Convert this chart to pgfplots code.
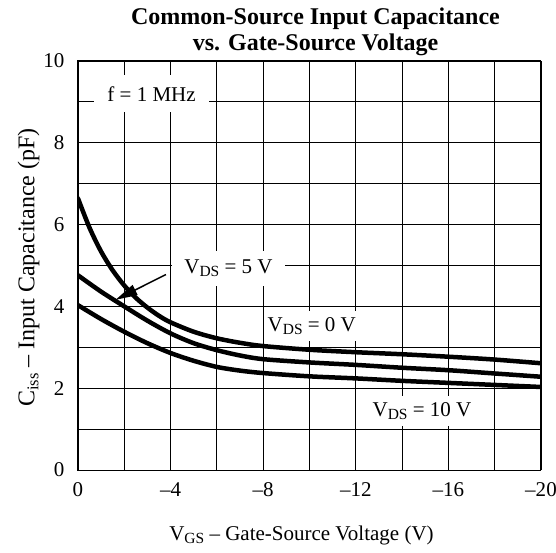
\documentclass[border=0pt]{standalone}
\usepackage{fontspec}
\setmainfont{Liberation Serif}
\usepackage{pgfplots}
\pgfplotsset{compat=1.18}
\usetikzlibrary{arrows.meta}
\newcommand\sub[1]{\raisebox{-0.35ex}{\fontsize{15.5}{15.5}\selectfont #1}}
\newcommand\subs[1]{\raisebox{-0.35ex}{\fontsize{16.5}{16.5}\selectfont #1}}
\begin{document}
\begin{tikzpicture}
\path[use as bounding box] (-78pt,-82pt) rectangle (478pt,470pt);
\begin{axis}[
  at={(0,0)}, anchor=south west,
  scale only axis, width=463pt, height=409pt,
  xmin=-20, xmax=0, x dir=reverse,
  ymin=0, ymax=10,
  xtick={0,-4,-8,-12,-16,-20},
  xticklabels={0,–4,–8,–12,–16,–20},
  ytick={0,2,4,6,8,10},
  yticklabels={0,2,4,6,8,10},
  minor xtick={-2,-6,-10,-14,-18},
  minor ytick={1,3,5,7,9},
  grid=both,
  major grid style={black, line width=0.8pt},
  minor grid style={black, line width=0.8pt},
  major tick length=0pt, minor tick length=0pt,
  axis line style={black, line width=1pt},
  tick label style={font=\fontsize{21}{21}\selectfont},
  yticklabel style={xshift=-10pt},
  xticklabel style={yshift=-9pt},
  title={Common-Source Input Capacitance\\vs. Gate-Source Voltage},
  title style={align=center, font=\bfseries\fontsize{24}{25.5}\selectfont, yshift=-4pt, xshift=6pt},
  xlabel={V\sub{GS} – Gate-Source Voltage (V)},
  ylabel={C\subs{iss} – Input Capacitance (pF)},
  xlabel style={font=\fontsize{21}{21}\selectfont, yshift=-22pt, xshift=-8pt},
  ylabel style={font=\fontsize{24}{24}\selectfont, yshift=-3pt, xshift=-2pt},
]
\addplot[black, line width=4.5pt, smooth, line cap=round] coordinates {
(0,6.64) (-0.5,5.92) (-1,5.34) (-1.5,4.88) (-2,4.51) (-2.5,4.21) (-3,3.97) (-3.5,3.77) (-4,3.61) (-5,3.38) (-6,3.22) (-7,3.11) (-8,3.03) (-10,2.94) (-12,2.88) (-14,2.83) (-16,2.77) (-18,2.70) (-20,2.61)};
\addplot[black, line width=4.5pt, smooth, line cap=round] coordinates {
(0,4.76) (-1,4.36) (-2,4.0) (-3,3.65) (-4,3.34) (-5,3.1) (-6,2.93) (-7,2.8) (-8,2.71) (-10,2.63) (-12,2.57) (-14,2.5) (-16,2.44) (-18,2.36) (-20,2.28)};
\addplot[black, line width=4.5pt, smooth, line cap=round] coordinates {
(0,4.03) (-1,3.69) (-2,3.38) (-3,3.1) (-4,2.86) (-5,2.67) (-6,2.52) (-7,2.43) (-8,2.37) (-10,2.29) (-12,2.24) (-14,2.18) (-16,2.13) (-18,2.08) (-20,2.03)};
\node[fill=white, inner xsep=13pt, inner ysep=11pt, font=\fontsize{21}{21}\selectfont] at (axis cs:-3.18,9.2) {f = 1 MHz};
\draw[black, line width=1.5pt, -{Triangle[length=22pt,width=11pt]}] (axis cs:-3.80,4.78) -- (axis cs:-1.62,4.16);
\node[fill=white, inner xsep=12pt, inner ysep=9pt, font=\fontsize{21}{21}\selectfont] at (axis cs:-6.5,4.93) {V\sub{DS} = 5 V\hspace{18pt}};
\node[fill=white, inner xsep=4pt, inner ysep=6pt, font=\fontsize{21}{21}\selectfont] at (axis cs:-10.1,3.52) {V\sub{DS} = 0 V};
\node[fill=white, inner xsep=4pt, inner ysep=6pt, font=\fontsize{21}{21}\selectfont] at (axis cs:-14.86,1.44) {V\sub{DS} = 10 V};
\end{axis}
\end{tikzpicture}
\end{document}
